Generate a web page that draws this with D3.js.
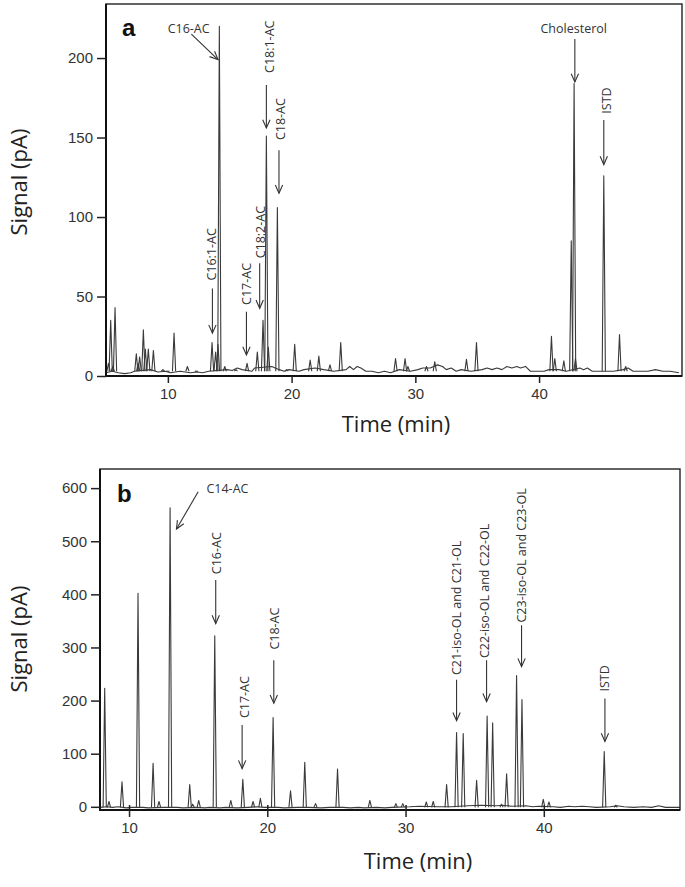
<!DOCTYPE html>
<html>
<head>
<meta charset="utf-8">
<script src="https://cdn.jsdelivr.net/npm/d3@7"></script>
<style>
  body { margin: 0; background: #fff; }
  svg { display: block; font-family: "Open Sans", "Noto Sans", sans-serif; }
  .tick text { fill: #333; font-size: 15px; }
  .tick line { stroke: #222; stroke-width: 1.5; }
  .trace { fill: none; stroke: #3a3a3a; stroke-width: 1.1; stroke-linejoin: round; }
  .note { fill: #333; font-size: 12.5px; }
  .arrow { fill: none; stroke: #333; stroke-width: 1.1; }
</style>
</head>
<body>
<svg id="chart" width="685" height="887"></svg>
<script>
// DATA

var topTicksX = [10, 20, 30, 40];
var topTicksY = [0, 50, 100, 150, 200];
var bottomTicksX = [10, 20, 30, 40];
var bottomTicksY = [0, 100, 200, 300, 400, 500, 600];

// [time (min), signal (pA)] apex of each peak, panel a
var topPeaks = [
  [5.2, 8], [5.38, 35], [5.55, 6], [5.73, 43], [7.45, 14], [7.6, 8], [7.72, 12],
  [8.02, 29], [8.18, 17], [8.42, 17], [8.83, 16], [9.6, 4], [10.0, 3], [10.5, 27],
  [11.58, 6], [12.3, 3], [13.57, 21], [13.86, 15], [14.05, 20], [14.16, 220],
  [14.6, 6], [15.5, 4], [16.4, 8], [17.23, 15], [17.69, 35], [17.96, 151],
  [18.12, 18], [18.85, 106], [19.6, 4], [20.25, 20], [21.5, 10], [22.2, 12.5],
  [23.1, 7], [23.97, 21], [28.4, 11], [29.17, 11], [29.4, 6], [30.9, 6],
  [31.57, 9], [34.13, 10.5], [34.94, 21], [41.0, 25], [41.27, 11], [42.0, 9.5],
  [42.6, 85], [42.83, 184], [42.94, 11], [45.23, 126], [46.5, 26], [47.0, 6]
];

// baseline wiggle between peaks, panel a
var topBaseline = [
  [5.0, 2], [5.5, 3], [6.0, 2], [6.5, 1.5], [7.0, 2], [7.3, 3], [8.6, 4], [9.2, 2.5],
  [9.8, 3], [10.2, 2], [11.0, 3], [11.8, 2], [12.4, 2.5], [12.8, 2], [13.3, 3],
  [14.8, 4], [15.2, 3.5], [15.6, 5], [16.0, 4], [16.8, 3], [17.0, 5], [18.4, 6],
  [19.0, 4], [19.4, 3], [19.8, 4], [20.6, 3], [21.0, 4], [21.9, 5], [22.6, 4],
  [23.4, 3], [24.4, 4], [24.7, 6], [25.0, 4], [25.3, 6], [25.6, 5], [26.0, 3],
  [26.5, 3], [27.0, 2], [27.5, 3], [28.0, 2], [28.7, 4], [29.6, 3], [30.2, 4],
  [30.6, 5], [31.2, 5], [31.8, 7], [32.2, 6], [32.5, 4], [32.9, 5], [33.3, 3],
  [33.7, 4], [34.5, 3], [35.4, 4], [35.8, 5], [36.2, 4], [36.6, 5], [37.0, 4],
  [37.4, 6], [37.8, 5], [38.2, 6], [38.5, 5], [38.9, 6], [39.3, 3], [39.8, 3],
  [40.4, 3], [40.8, 4], [41.6, 4], [42.2, 3], [43.3, 5], [43.6, 4], [43.9, 5],
  [44.3, 3], [44.8, 3], [45.6, 3], [46.0, 3], [46.8, 4], [47.2, 5], [47.6, 3],
  [48.2, 3], [48.8, 3], [49.4, 4], [50.0, 3], [50.6, 3], [51.3, 2]
];

// panel b
var bottomPeaks = [
  [8.24, 223], [8.55, 10], [9.49, 47], [10.65, 402], [11.74, 82], [12.17, 10],
  [12.97, 563], [14.39, 42], [14.6, 5], [15.04, 12], [16.2, 322], [17.36, 12],
  [18.23, 52], [18.97, 10], [19.5, 16], [20.42, 168], [21.68, 30], [22.71, 84],
  [23.49, 6], [25.08, 71], [27.42, 12], [29.3, 6], [29.8, 6], [31.5, 9],
  [32.0, 10], [32.97, 42], [33.69, 140], [34.17, 138], [35.14, 50], [35.9, 171],
  [36.3, 158], [36.94, 5], [37.31, 62], [38.03, 247], [38.42, 202], [39.96, 14],
  [40.37, 9], [44.37, 104], [45.2, 3]
];

var bottomBaseline = [
  [7.9, -1], [8.4, 0], [8.8, -1], [9.2, 0], [9.8, -2], [10.2, -1], [11.0, -1],
  [11.4, -2], [12.5, -1], [13.5, -1], [13.9, -2], [14.8, -1], [15.5, -2], [15.8, -1],
  [16.6, -2], [17.0, -1], [17.8, -2], [18.6, -1], [19.2, 0], [19.8, -1], [20.8, -1],
  [21.2, -2], [22.2, -1], [23.0, -1], [23.9, -2], [24.5, -1], [25.5, -1], [26.0, -2],
  [26.6, -1], [27.0, -2], [27.9, -1], [28.5, -2], [29.0, -1], [30.3, 0], [31.0, 1],
  [32.4, 0], [33.3, 0], [34.5, 2], [35.5, 3], [36.6, 2], [37.0, 3], [37.7, 1],
  [38.7, 2], [39.2, 0], [39.6, 1], [40.7, 0], [41.2, -1], [41.8, 1], [42.2, 0],
  [42.8, 1], [43.3, 0], [43.8, -1], [44.8, 0], [45.3, 2], [45.8, 0], [46.5, -1],
  [47.2, 0], [47.8, -1], [48.3, 2], [48.8, -1], [49.4, -1], [49.85, -1]
];

// annotations: label, label anchor (time, signal), rotated?, arrow tail (time, signal) -> tip (time, signal)
var topNotes = [
  { text: "C16-AC", lt: 11.68, lv: 216, vertical: false, anchor: "middle", t0: 11.9, v0: 215, t1: 14.05, v1: 199 },
  { text: "C16:1-AC", lt: 13.55, lv: 60, vertical: true, t0: 13.6, v0: 55, t1: 13.6, v1: 27 },
  { text: "C17-AC", lt: 16.4, lv: 44.7, vertical: true, t0: 16.35, v0: 40.4, t1: 16.35, v1: 13.2 },
  { text: "C18:2-AC", lt: 17.48, lv: 74, vertical: true, t0: 17.42, v0: 71, t1: 17.42, v1: 42.6 },
  { text: "C18:1-AC", lt: 18.23, lv: 190.6, vertical: true, t0: 17.96, v0: 183, t1: 17.96, v1: 156 },
  { text: "C18-AC", lt: 19.14, lv: 148.4, vertical: true, t0: 18.98, v0: 142, t1: 18.98, v1: 115 },
  { text: "Cholesterol", lt: 42.8, lv: 216, vertical: false, anchor: "middle", t0: 42.89, v0: 212, t1: 42.89, v1: 185 },
  { text: "ISTD", lt: 45.45, lv: 165, vertical: true, t0: 45.23, v0: 161, t1: 45.23, v1: 133 }
];

var bottomNotes = [
  { text: "C14-AC", lt: 15.6, lv: 591, vertical: false, anchor: "start", t0: 15.0, v0: 593, t1: 13.43, v1: 523 },
  { text: "C16-AC", lt: 16.32, lv: 438, vertical: true, t0: 16.27, v0: 427, t1: 16.27, v1: 345 },
  { text: "C17-AC", lt: 18.37, lv: 167, vertical: true, t0: 18.18, v0: 154, t1: 18.18, v1: 72 },
  { text: "C18-AC", lt: 20.54, lv: 296, vertical: true, t0: 20.47, v0: 276, t1: 20.47, v1: 195 },
  { text: "C21-iso-OL and C21-OL", lt: 33.69, lv: 248, vertical: true, t0: 33.69, v0: 239, t1: 33.69, v1: 162 },
  { text: "C22-iso-OL and C22-OL", lt: 35.74, lv: 280, vertical: true, t0: 35.86, v0: 276, t1: 35.86, v1: 198 },
  { text: "C23-iso-OL and C23-OL", lt: 38.39, lv: 347, vertical: true, t0: 38.39, v0: 342, t1: 38.39, v1: 264 },
  { text: "ISTD", lt: 44.42, lv: 217, vertical: true, t0: 44.42, v0: 204, t1: 44.42, v1: 123 }
];

// LAYOUT

var panels = [
  {
    letter: "a", box: { left: 106, right: 682, top: 4, bottom: 376 },
    xDomain: [5, 51.55], yDomain: [0, 234],
    ticksX: topTicksX, ticksY: topTicksY, peaks: topPeaks, baseline: topBaseline, notes: topNotes,
    baseLevel: 3, crossTicks: false,
    letterPos: [122, 36], yTitleY: 182, xTitleX: 396, xTitleY: 432
  },
  {
    letter: "b", box: { left: 100, right: 680, top: 469, bottom: 810 },
    xDomain: [7.9, 49.85], yDomain: [-6, 636],
    ticksX: bottomTicksX, ticksY: bottomTicksY, peaks: bottomPeaks, baseline: bottomBaseline, notes: bottomNotes,
    baseLevel: -1, crossTicks: true,
    letterPos: [117, 502], yTitleY: 639, xTitleX: 418, xTitleY: 869
  }
];

var svg = d3.select('#chart');

function drawArrow(g, x0, y0, x1, y1) {
  var ang = Math.atan2(y1 - y0, x1 - x0);
  var len = 9, spread = 0.42;
  g.append('line').attr('class', 'arrow')
    .attr('x1', x0).attr('y1', y0).attr('x2', x1).attr('y2', y1);
  g.append('path').attr('class', 'arrow')
    .attr('d', 'M' + (x1 - len * Math.cos(ang - spread)) + ',' + (y1 - len * Math.sin(ang - spread)) +
      'L' + x1 + ',' + y1 +
      'L' + (x1 - len * Math.cos(ang + spread)) + ',' + (y1 - len * Math.sin(ang + spread)));
}

function drawPanel(p) {
  var b = p.box;
  var x = d3.scaleLinear().domain(p.xDomain).range([b.left, b.right]);
  var y = d3.scaleLinear().domain(p.yDomain).range([b.bottom, b.top]);
  var g = svg.append('g');

  // baseline trace
  var line = d3.line()
    .x(function(d) { return x(d[0]); })
    .y(function(d) { return y(d[1]); });
  g.append('path').attr('class', 'trace').attr('d', line(p.baseline));

  // peaks as narrow spikes
  g.selectAll('.peak')
    .data(p.peaks)
    .enter()
    .append('path')
      .attr('class', 'trace peak')
      .attr('d', function(d) {
        var cx = x(d[0]);
        var yb = y(p.baseLevel);
        return 'M' + (cx - 1.6) + ',' + yb + 'L' + cx + ',' + y(d[1]) + 'L' + (cx + 1.6) + ',' + yb;
      });

  // frame
  g.append('rect')
    .attr('x', b.left).attr('y', b.top)
    .attr('width', b.right - b.left).attr('height', b.bottom - b.top)
    .attr('fill', 'none').attr('stroke', '#222').attr('stroke-width', 1.4);
  g.append('path')
    .attr('d', 'M' + b.left + ',' + b.top + 'V' + b.bottom + 'H' + b.right)
    .attr('fill', 'none').attr('stroke', '#111').attr('stroke-width', 2);

  // axes
  var yAxis = g.append('g')
    .attr('transform', 'translate(' + b.left + ',0)')
    .call(d3.axisLeft(y).tickValues(p.ticksY).tickSize(9).tickPadding(4));
  yAxis.select('.domain').remove();

  var xAxis = g.append('g')
    .attr('transform', 'translate(0,' + b.bottom + ')')
    .call(d3.axisBottom(x).tickValues(p.ticksX).tickSize(7).tickPadding(5));
  xAxis.select('.domain').remove();
  if (p.crossTicks) xAxis.selectAll('.tick line').attr('y1', -5);
  svg.selectAll('.tick text').attr('font-family', null).attr('font-size', null);

  // titles
  g.append('text')
    .attr('transform', 'translate(27,' + p.yTitleY + ') rotate(-90)')
    .attr('text-anchor', 'middle')
    .attr('font-size', 22).attr('fill', '#222')
    .text('Signal (pA)');
  g.append('text')
    .attr('x', p.xTitleX).attr('y', p.xTitleY)
    .attr('text-anchor', 'middle')
    .attr('font-size', 22).attr('fill', '#222')
    .text('Time (min)');
  g.append('text')
    .attr('x', p.letterPos[0]).attr('y', p.letterPos[1])
    .attr('font-family', 'Arial, "Liberation Sans", sans-serif')
    .attr('font-weight', 'bold').attr('font-size', 24).attr('fill', '#111')
    .text(p.letter);

  // annotations
  p.notes.forEach(function(n) {
    var lx = x(n.lt), ly = y(n.lv);
    if (n.vertical) {
      g.append('text').attr('class', 'note')
        .attr('transform', 'translate(' + lx + ',' + ly + ') rotate(-90)')
        .attr('dy', '0.35em')
        .attr('text-anchor', 'start')
        .text(n.text);
    } else {
      g.append('text').attr('class', 'note')
        .attr('x', lx).attr('y', ly)
        .attr('text-anchor', n.anchor)
        .text(n.text);
    }
    drawArrow(g, x(n.t0), y(n.v0), x(n.t1), y(n.v1));
  });
}

panels.forEach(drawPanel);
</script>
</body>
</html>
